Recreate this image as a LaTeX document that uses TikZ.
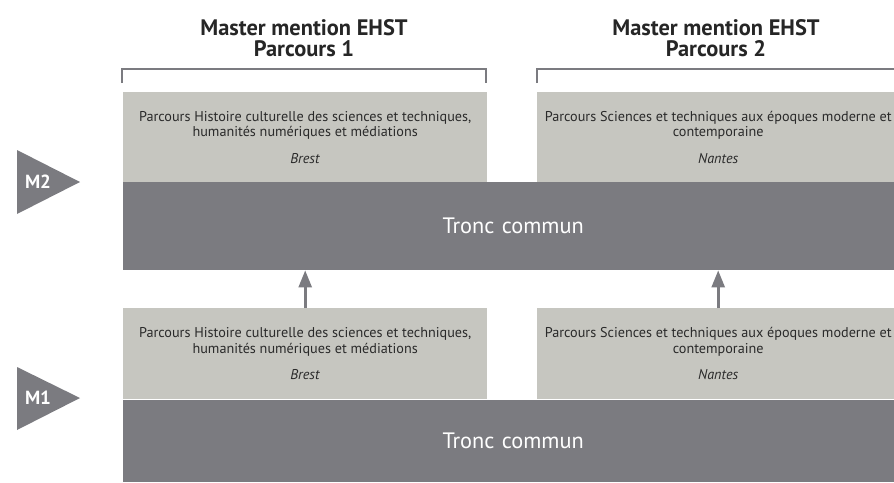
\documentclass[tikz,border=0pt]{standalone}
\usepackage{fontspec}
\setmainfont{PT Sans}
\usetikzlibrary{arrows.meta}
\definecolor{lightbox}{HTML}{C6C6C0}
\definecolor{darkband}{HTML}{7B7B80}
\definecolor{boxtext}{HTML}{2A2A2A}
\definecolor{titletext}{HTML}{262626}
\tikzset{
  lbox/.style={fill=lightbox, inner sep=0pt, anchor=north west, align=center, text=boxtext,
    font=\fontsize{14.2}{15.5}\selectfont},
  band/.style={fill=darkband, inner sep=0pt, anchor=north west, text=white,
    font=\fontsize{22.3}{24}\selectfont},
  title/.style={align=center, text=titletext, font=\bfseries\fontsize{22.4}{20.5}\selectfont},
  bracket/.style={draw=darkband, line width=2.2pt},
  uparrow/.style={draw=darkband, line width=2.6pt, -{Triangle[length=17pt,width=13pt]}},
  lvl/.style={text=white, font=\bfseries\fontsize{19}{20}\selectfont, inner sep=0pt},
}
\begin{document}
\begin{tikzpicture}[x=1pt,y=-1pt]
\useasboundingbox (0,0) rectangle (894,482);
\clip (0,0) rectangle (894,482);
% titles
\node[title] (t1) at (304,38) {Master mention EHST\\Parcours 1};
\node[title] (t2) at (716,38) {Master mention EHST\\Parcours 2};
% brackets
\draw[bracket] (122,83) -- (122,69) -- (486,69) -- (486,83);
\draw[bracket] (537,83) -- (537,69) -- (900,69);
% M2 level
\node[lbox, minimum width=364pt, minimum height=90pt] (a2) at (123,92)
  {Parcours Histoire culturelle des sciences et techniques,\\humanités numériques et médiations\\[11pt]\textit{Brest}};
\node[lbox, minimum width=362pt, minimum height=90pt] (b2) at (537,92)
  {Parcours Sciences et techniques aux époques moderne et\\contemporaine\\[11pt]\textit{Nantes}};
\node[band, minimum width=780pt, minimum height=88pt, text width=771pt, align=center] (tc2) at (123,182) {Tronc commun};
% M1 level
\node[lbox, minimum width=364pt, minimum height=91pt] (a1) at (123,308)
  {Parcours Histoire culturelle des sciences et techniques,\\humanités numériques et médiations\\[11pt]\textit{Brest}};
\node[lbox, minimum width=362pt, minimum height=91pt] (b1) at (537,308)
  {Parcours Sciences et techniques aux époques moderne et\\contemporaine\\[11pt]\textit{Nantes}};
\node[band, minimum width=780pt, minimum height=82pt, text width=771pt, align=center] (tc1) at (123,400) {Tronc commun};
% arrows
\draw[uparrow] (a1.north) -- (a1.north |- tc2.south);
\draw[uparrow] (b1.north) -- (b1.north |- tc2.south);
% level markers
\fill[darkband] (17,150) -- (80,182) -- (17,214) -- cycle;
\node[lvl] (m2) at (38,182) {M2};
\fill[darkband] (17,367) -- (80,398) -- (17,430) -- cycle;
\node[lvl] (m1) at (38,398) {M1};
\end{tikzpicture}
\end{document}
